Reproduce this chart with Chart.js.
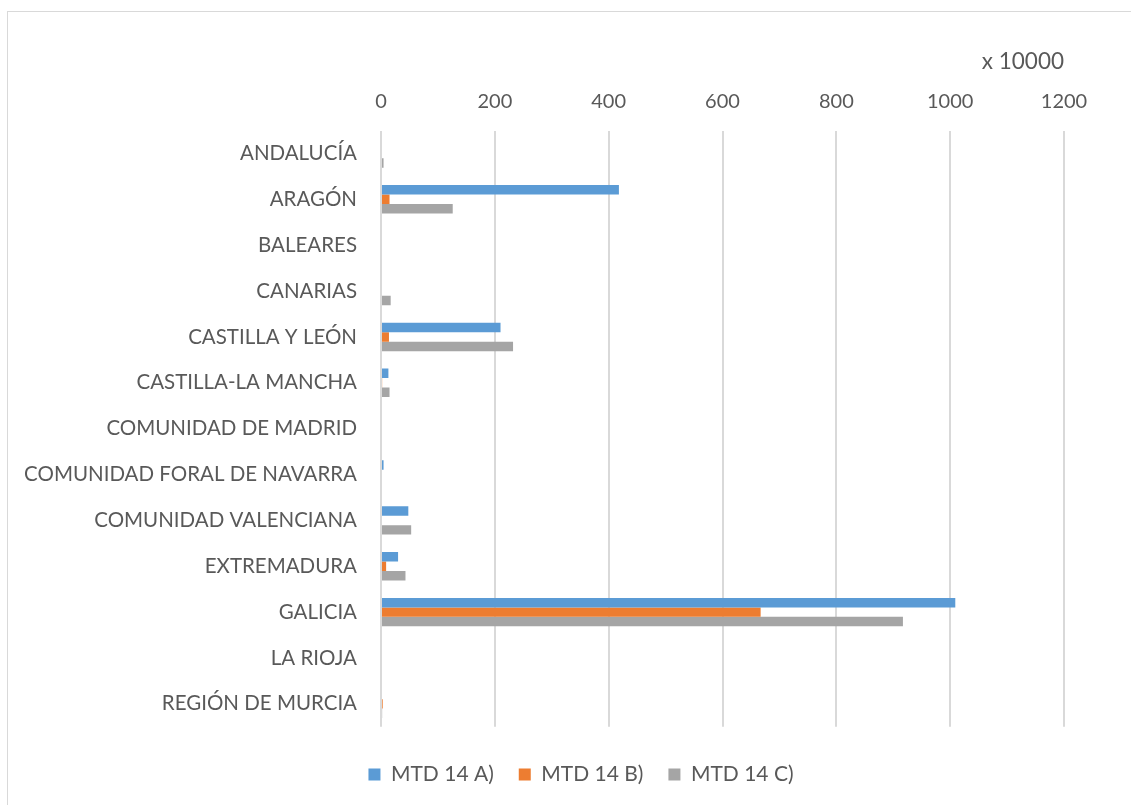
<!DOCTYPE html>
<html>
<head>
<meta charset="utf-8">
<title>MTD 14 por comunidad</title>
<script src="https://cdn.jsdelivr.net/npm/chart.js@4.4.0/dist/chart.umd.min.js"></script>
<style>
  html, body { margin:0; padding:0; background:#fff; overflow:hidden; }
  #wrap { position:relative; width:1131px; height:805px; }
  #frame { position:absolute; left:7px; top:11px; width:1200px; height:900px;
           border:1.5px solid #d9d9d9; box-sizing:border-box; }
  #chart { position:absolute; left:0; top:0; }
</style>
</head>
<body>
<div id="wrap">
  <div id="frame"></div>
  <canvas id="chart" width="1131" height="805"></canvas>
</div>
<script>
/* Comunidades y valores (x 10000) */
var regions = ['ANDALUCÍA','ARAGÓN','BALEARES','CANARIAS','CASTILLA Y LEÓN','CASTILLA-LA MANCHA',
  'COMUNIDAD DE MADRID','COMUNIDAD FORAL DE NAVARRA','COMUNIDAD VALENCIANA','EXTREMADURA',
  'GALICIA','LA RIOJA','REGIÓN DE MURCIA'];
var mtdA = [0, 418, 0, 0, 210, 13, 0, 4.5, 48, 30, 1009, 0, 0];
var mtdB = [0, 15, 0, 0, 14, 2, 0, 0, 0, 9, 667, 0, 3];
var mtdC = [4.5, 126, 0, 17, 232, 15, 0, 0, 53, 43, 917, 0, 2];
var seriesNames = ['MTD 14 A)','MTD 14 B)','MTD 14 C)'];
var xTicks = [0, 200, 400, 600, 800, 1000, 1200];

var txt = '#595959';
var family = 'Lato, "Open Sans", sans-serif';

// legend row sits centred under the plot, not under the whole canvas
var legendShift = {
  id:'legendShift',
  afterLayout:function(chart){
    var lg = chart.legend;
    if(!lg) return;
    lg.left += 49;
    lg.right += 49;
  }
};

new Chart(document.getElementById('chart'), {
  type:'bar',
  data:{
    labels:regions,
    datasets:[
      {label:seriesNames[0], data:mtdA, backgroundColor:'#5B9BD5'},
      {label:seriesNames[1], data:mtdB, backgroundColor:'#ED7D31'},
      {label:seriesNames[2], data:mtdC, backgroundColor:'#A5A5A5'}
    ]
  },
  plugins:[legendShift],
  options:{
    indexAxis:'y',
    responsive:false,
    animation:false,
    datasets:{bar:{barPercentage:1, categoryPercentage:0.62, borderWidth:0}},
    layout:{padding:{left:0, right:67, top:50, bottom:10}},
    plugins:{
      legend:{
        position:'bottom',
        // empty title only adds space above the legend row
        title:{display:true, text:'', font:{size:1}, padding:{top:11, bottom:0}},
        labels:{color:txt, font:{family:family, size:21}, boxWidth:12, boxHeight:12, padding:25}
      },
      tooltip:{enabled:false}
    },
    scales:{
      x:{
        position:'top',
        min:xTicks[0], max:xTicks[xTicks.length-1],
        afterBuildTicks:function(s){ s.ticks = xTicks.map(function(v){ return {value:v}; }); },
        grid:{color:'#d9d9d9', lineWidth:2, drawTicks:false},
        border:{display:false},
        ticks:{color:txt, font:{family:family, size:20}, padding:17,
               callback:function(v){ return String(v); }},
        title:{display:true, text:'x 10000', align:'end', color:txt,
               font:{family:family, size:22.5, lineHeight:1}, padding:{top:0, bottom:0}}
      },
      y:{
        afterFit:function(s){ s.width = 381; },
        grid:{display:false, drawTicks:false},
        border:{display:false},
        ticks:{color:txt, font:{family:family, size:20.5}, padding:24, autoSkip:false}
      }
    }
  }
});
</script>
</body>
</html>
